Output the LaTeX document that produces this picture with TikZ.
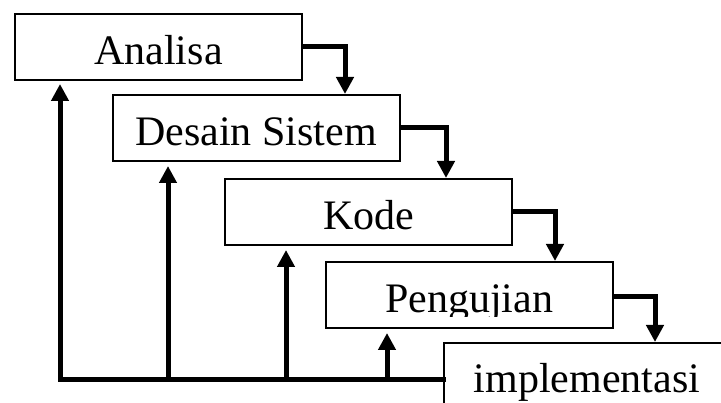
\documentclass[tikz,border=0pt]{standalone}
\usepackage{fontspec}
\setmainfont{Liberation Serif}
\usetikzlibrary{arrows.meta}
\tikzset{
  stagebox/.style={draw, line width=2pt, rectangle, inner sep=0pt,
    minimum width=287pt, minimum height=66pt},
  lbl/.style={inner sep=0pt, text height=35pt, text depth=0pt,
    font=\fontsize{42}{50}\selectfont},
  flow/.style={line width=5pt, -{Triangle[length=17pt,width=17pt]}},
  back/.style={flow, shorten >=4pt}
}
\begin{document}
\begin{tikzpicture}[x=1pt,y=-1pt]
\clip (0,0) rectangle (721,403);
\fill[white] (0,0) rectangle (721,403);
% stages
\node[stagebox, lbl] (a) at (158.5,47) {Analisa};
\node[stagebox, lbl] (d) at (256,128) {Desain Sistem};
\node[stagebox, lbl] (k) at (368.5,212) {Kode};
\node[stagebox] (p) at (469,295) {};
\begin{scope}
  \clip (p.north west) rectangle ([yshift=12pt]p.south east);
  \node[lbl] (pt) at (p.center) {Pengujian};
\end{scope}
\node[stagebox, lbl, minimum width=286pt, text height=33pt] (i) at (587,376) {implementasi};
% forward flow
\coordinate (x1) at (345,0);
\coordinate (x2) at (446,0);
\coordinate (x3) at (555,0);
\coordinate (x4) at (655,0);
\draw[flow] (a.east) -| (d.north -| x1);
\draw[flow] (d.east) -| (k.north -| x2);
\draw[flow] (k.east) -| (p.north -| x3);
\draw[flow] ([yshift=-2pt]p.east) -| (i.north -| x4);
% feedback
\coordinate (fb) at (60,380);
\coordinate (f2) at (168,380);
\coordinate (f3) at (286,380);
\coordinate (f4) at (387,380);
\draw[flow, shorten >=3pt] ([xshift=3pt]i.west |- fb) -- (fb) -- (a.south -| fb);
\draw[back] (f2) -- (d.south -| f2);
\draw[back] (f3) -- (k.south -| f3);
\draw[back] (f4) -- (p.south -| f4);
\end{tikzpicture}
\end{document}
